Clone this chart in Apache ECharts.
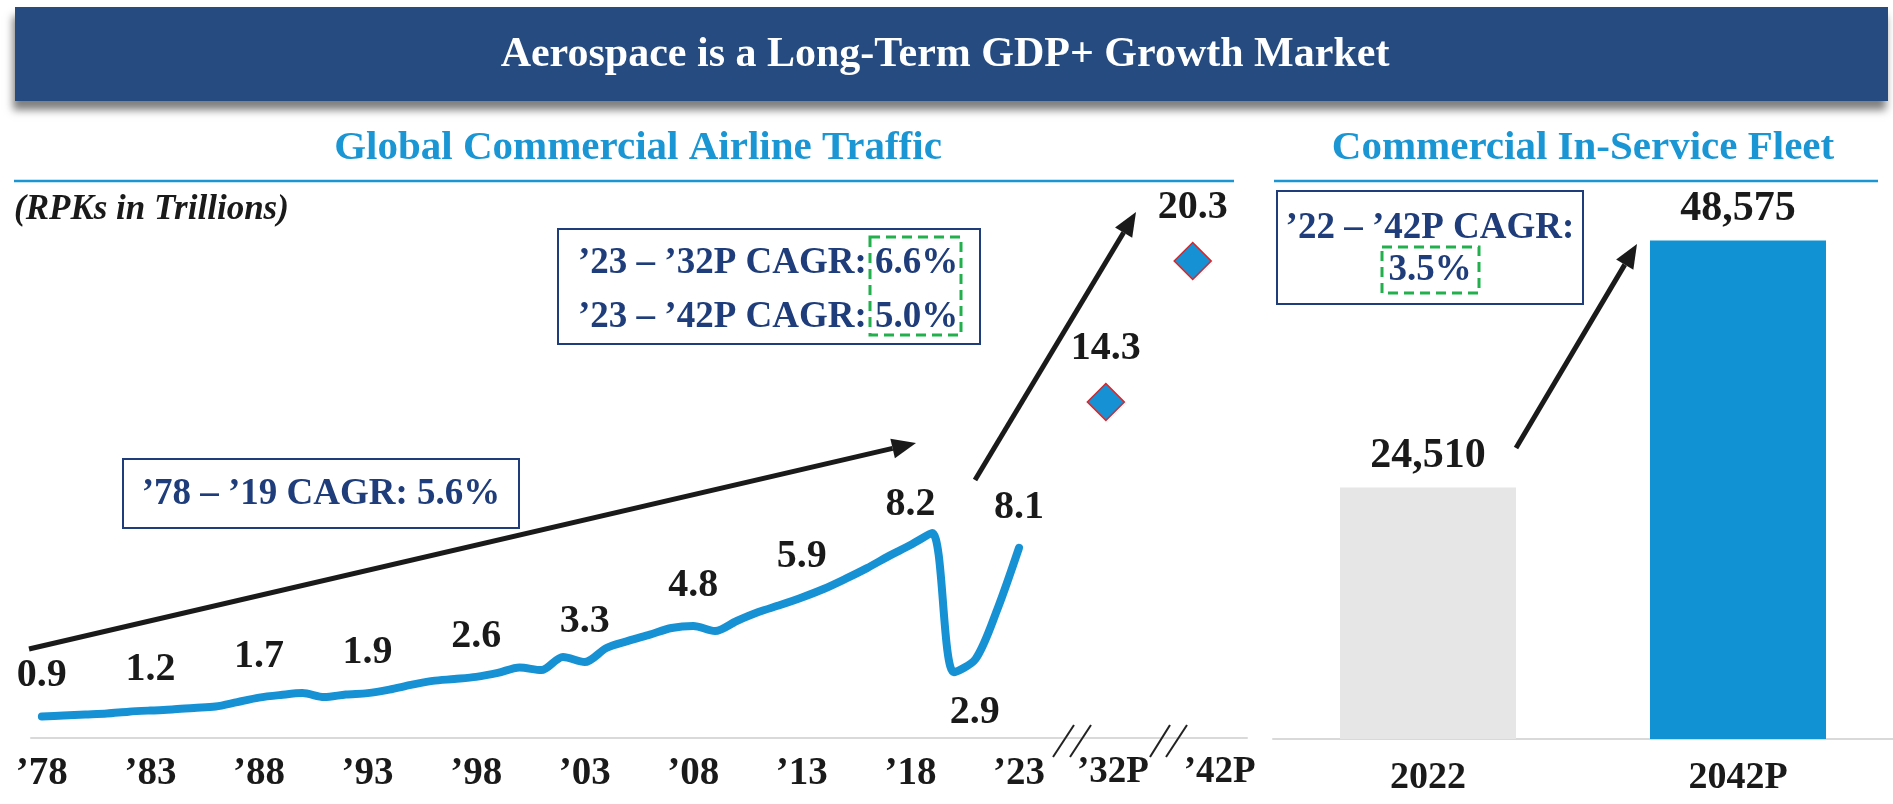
<!DOCTYPE html>
<html>
<head>
<meta charset="utf-8">
<script src="https://cdn.jsdelivr.net/npm/echarts@6/dist/echarts.min.js"></script>
<style>
html,body{margin:0;padding:0;background:#fff;}
#c{width:1893px;height:804px;}
</style>
</head>
<body>
<div id="c"></div>
<script>
// ---------- DATA ----------
const trafficYears = ['’78','’79','’80','’81','’82','’83','’84','’85','’86','’87',
  '’88','’89','’90','’91','’92','’93','’94','’95','’96','’97',
  '’98','’99','’00','’01','’02','’03','’04','’05','’06','’07',
  '’08','’09','’10','’11','’12','’13','’14','’15','’16','’17',
  '’18','’19','’20','’21','’22','’23'];
const trafficValues = [0.91,0.96,1.00,1.04,1.12,1.17,1.21,1.28,1.34,1.53,
  1.72,1.83,1.91,1.74,1.85,1.91,2.06,2.26,2.43,2.51,
  2.60,2.77,3.00,2.89,3.45,3.23,3.83,4.13,4.40,4.68,
  4.77,4.55,4.98,5.36,5.66,5.98,6.34,6.77,7.23,7.74,
  8.21,8.72,2.80,3.36,5.47,8.09];
const tickYears = ['’78','’83','’88','’93','’98','’03','’08','’13','’18','’23'];
const labelYears = ['’78','’83','’88','’93','’98','’03','’08','’13','’18','’20','’23'];
const labelTexts = ['0.9','1.2','1.7','1.9','2.6','3.3','4.8','5.9','8.2','2.9','8.1'];
const belowLabels = ['’20'];
const projCategories = ['’32P','’42P'];
const projValues = [14.3, 20.3];
const projTexts = ['14.3','20.3'];
const fleetCategories = ['2022','2042P'];
const fleetValues = [24510, 48575];

// ---------- STYLE ----------
const SERIF = '"Liberation Serif","Times New Roman",serif';
const NAVY = '#1f3d7a';
const BLUE = '#1591d4';
const TITLEBLUE = '#1a96d4';
const GREEN = '#21b04b';
const DARK = '#1a1a1a';

// category axis: years, then gap slots and the projection years
const gapA = ['', '', ''];
const gapB = ['', '', ''];
const tail = ['', ''];
const categories = trafficYears.concat(gapA, [projCategories[0]], gapB, [projCategories[1]], tail);

const lineData = trafficValues.map((v, i) => {
  const y = trafficYears[i];
  const li = labelYears.indexOf(y);
  if (li < 0) return v;
  const below = belowLabels.indexOf(y) >= 0;
  return {
    value: v,
    label: {
      show: true,
      formatter: labelTexts[li],
      position: below ? 'bottom' : 'top',
      distance: 20,
      offset: below ? [21, 0] : [0, 0]
    }
  };
});

const projData = projCategories.map((c, i) => ({ value: [c, projValues[i]], label: { formatter: projTexts[i] } }));

function arrow(x1, y1, x2, y2) {
  const a = Math.atan2(y2 - y1, x2 - x1);
  const L = 24, W = 10;
  const bx = x2 - L * Math.cos(a), by = y2 - L * Math.sin(a);
  return [
    { type: 'line', shape: { x1: x1, y1: y1, x2: bx, y2: by }, style: { stroke: DARK, lineWidth: 5 }, z: 5 },
    { type: 'polygon', shape: { points: [[x2, y2], [bx + W * Math.sin(a), by - W * Math.cos(a)], [bx - W * Math.sin(a), by + W * Math.cos(a)]] }, style: { fill: DARK }, z: 5 }
  ];
}
function txt(t, x, y, size, color, opts) {
  return {
    type: 'text', z: 6,
    style: Object.assign({ text: t, x: x, y: y, fontFamily: SERIF, fontWeight: 'bold', fontSize: size, fill: color, align: 'center', verticalAlign: 'middle' }, (opts || {}))
  };
}
function box(x, y, w, h) {
  return { type: 'rect', shape: { x: x, y: y, width: w, height: h }, style: { fill: '#fff', stroke: NAVY, lineWidth: 2 }, z: 4 };
}
function dashed(x, y, w, h) {
  return { type: 'rect', shape: { x: x, y: y, width: w, height: h }, style: { fill: 'none', stroke: GREEN, lineWidth: 3, lineDash: [10, 6] }, z: 7 };
}
function slash(x1, y1, x2, y2) {
  return { type: 'line', shape: { x1: x1, y1: y1, x2: x2, y2: y2 }, style: { stroke: '#222', lineWidth: 2 }, z: 6 };
}

const graphics = [
  { type: 'rect', shape: { x: 15, y: 7, width: 1873, height: 94 }, style: { fill: '#264b81', shadowBlur: 8, shadowOffsetY: 9, shadowOffsetX: -2, shadowColor: 'rgba(0,0,0,0.5)' }, z: 1 },
  txt('Aerospace is a Long-Term GDP+ Growth Market', 945, 55, 42, '#ffffff'),
  txt('Global Commercial Airline Traffic', 638, 148, 41, TITLEBLUE),
  txt('Commercial In-Service Fleet', 1583, 148, 41, TITLEBLUE),
  { type: 'line', shape: { x1: 14, y1: 181, x2: 1234, y2: 181 }, style: { stroke: TITLEBLUE, lineWidth: 2.5 }, z: 2 },
  { type: 'line', shape: { x1: 1274, y1: 181, x2: 1878, y2: 181 }, style: { stroke: TITLEBLUE, lineWidth: 2.5 }, z: 2 },
  txt('(RPKs in Trillions)', 14, 210, 35, DARK, { align: 'left', fontStyle: 'italic' }),
  box(123, 459, 396, 69),
  txt('’78 – ’19 CAGR: 5.6%', 321, 494, 37, NAVY),
  box(558, 229, 422, 115),
  txt('’23 – ’32P CAGR:', 578, 263, 37, NAVY, { align: 'left' }),
  txt('6.6%', 875, 263, 37, NAVY, { align: 'left' }),
  txt('’23 – ’42P CAGR:', 578, 317, 37, NAVY, { align: 'left' }),
  txt('5.0%', 875, 317, 37, NAVY, { align: 'left' }),
  dashed(870, 237, 91, 98),
  box(1277, 191, 306, 113),
  txt('’22 – ’42P CAGR:', 1430, 228, 37, NAVY),
  txt('3.5%', 1430, 270, 37, NAVY),
  dashed(1382, 247, 97, 46),
  slash(1053, 757, 1074, 725), slash(1070, 757, 1091, 725),
  slash(1150, 757, 1170, 725), slash(1166, 757, 1187, 725)
].concat(arrow(29, 649, 916, 443), arrow(975, 480, 1136, 212), arrow(1516, 448, 1637, 244));

const labelFont = { fontFamily: SERIF, fontWeight: 'bold', fontSize: 40, color: DARK };

const option = {
  animation: false,
  backgroundColor: '#ffffff',
  grid: [
    { left: 31, width: 1216, top: 221, height: 517 },
    { left: 1273, width: 620, top: 226, height: 513 }
  ],
  xAxis: [
    {
      gridIndex: 0, type: 'category', data: categories, boundaryGap: true,
      axisLine: { lineStyle: { color: '#d9d9d9', width: 2 } },
      axisTick: { show: false },
      splitLine: { show: false },
      axisLabel: {
        interval: function (i, v) { return tickYears.indexOf(v) >= 0 || projCategories.indexOf(v) >= 0; },
        formatter: function (v) {
          if (v === projCategories[0]) return '{p1|' + v + '}';
          if (v === projCategories[1]) return '{p2|' + v + '}';
          return v;
        },
        rich: {
          p1: { fontFamily: SERIF, fontWeight: 'bold', fontSize: 37, color: DARK, padding: [0, 0, 0, 14] },
          p2: { fontFamily: SERIF, fontWeight: 'bold', fontSize: 37, color: DARK, padding: [0, 0, 0, 54] }
        },
        fontFamily: SERIF, fontWeight: 'bold', fontSize: 39, color: DARK, margin: 16
      }
    },
    {
      gridIndex: 1, type: 'category', data: fleetCategories,
      axisLine: { lineStyle: { color: '#d9d9d9', width: 2 } },
      axisTick: { show: false },
      axisLabel: { fontFamily: SERIF, fontWeight: 'bold', fontSize: 38, color: DARK, margin: 20 }
    }
  ],
  yAxis: [
    { gridIndex: 0, type: 'value', min: 0, max: 22, show: false },
    { gridIndex: 1, type: 'value', min: 0, max: 50000, show: false }
  ],
  series: [
    {
      type: 'line', xAxisIndex: 0, yAxisIndex: 0, data: lineData,
      smooth: 0.3, symbol: 'circle', symbolSize: 1, showSymbol: true,
      itemStyle: { color: 'rgba(0,0,0,0)' },
      lineStyle: { color: BLUE, width: 8, cap: 'round', join: 'round' },
      label: Object.assign({ show: false }, labelFont),
      z: 3
    },
    {
      type: 'scatter', xAxisIndex: 0, yAxisIndex: 0, data: projData,
      symbol: 'diamond', symbolSize: 37,
      itemStyle: { color: BLUE, borderColor: '#d8262b', borderWidth: 1.5, opacity: 1 },
      label: Object.assign({ show: true, position: 'top', distance: 14, opacity: 1 }, labelFont),
      z: 3
    },
    {
      type: 'bar', xAxisIndex: 1, yAxisIndex: 1, barWidth: 176,
      data: fleetValues.map((v, i) => ({ value: v, itemStyle: { color: i === 0 ? '#e6e6e6' : '#1192d2' } })),
      label: Object.assign({ show: true, position: 'top', distance: 10, formatter: function (p) { return p.value.toLocaleString('en-US'); } }, labelFont, { fontSize: 42 }),
      z: 3
    }
  ],
  graphic: graphics
};

const chart = echarts.init(document.getElementById('c'), null, { renderer: 'canvas' });
chart.setOption(option);
</script>
</body>
</html>
